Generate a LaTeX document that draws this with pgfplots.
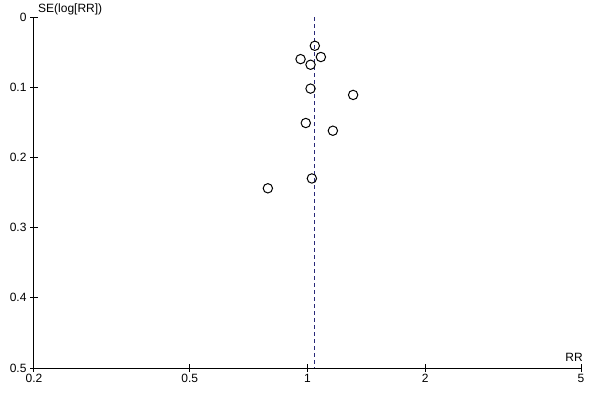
\documentclass[border=0pt]{standalone}
\usepackage{fontspec}
\setmainfont{Liberation Sans}
\usepackage{pgfplots}
\pgfplotsset{compat=1.18}
\definecolor{refline}{RGB}{40,40,120}
\begin{document}
\begin{tikzpicture}[font=\fontsize{12}{14}\selectfont]
\useasboundingbox (0pt,0pt) rectangle (600pt,400pt);
\begin{axis}[
    at={(34pt,32pt)}, anchor=south west,
    scale only axis,
    width=547pt, height=351pt,
    xmode=log,
    xmin=0.2, xmax=5,
    ymin=-0.5, ymax=0,
    axis lines=left,
    axis line style={black, line width=1pt, -},
    xtick={0.2,0.5,1,2,5},
    xticklabels={0.2,0.5,1,2,5},
    ytick={-0.5,-0.4,-0.3,-0.2,-0.1,0},
    yticklabels={0.5,0.4,0.3,0.2,0.1,0},
    tick align=center,
    major tick length=8pt,
    major tick style={black, line width=1pt},
    minor tick num=0,
    xticklabel style={font=\fontsize{12}{14}\selectfont, yshift=1pt},
    yticklabel style={font=\fontsize{12}{14}\selectfont},
    clip=false,
]
\addplot[refline, dashed, dash pattern=on 4pt off 3pt, line width=1pt]
    coordinates {(1.044,0) (1.044,-0.5)};
\addplot[only marks, mark=o, mark size=4.7pt, mark options={black, line width=1pt}]
    table[x=RR, y expr=-\thisrow{SE}] {
    RR     SE
    1.044  0.041
    0.960  0.060
    1.082  0.057
    1.018  0.068
    1.018  0.102
    1.308  0.111
    0.990  0.151
    1.161  0.162
    1.026  0.230
    0.792  0.244
    };
\end{axis}
\node[anchor=base west, inner sep=0pt, font=\fontsize{12}{14}\selectfont] at (38pt,387pt) {SE(log[RR])};
\node[anchor=base east, inner sep=0pt, font=\fontsize{12}{14}\selectfont] at (583pt,39pt) {RR};
\end{tikzpicture}
\end{document}
